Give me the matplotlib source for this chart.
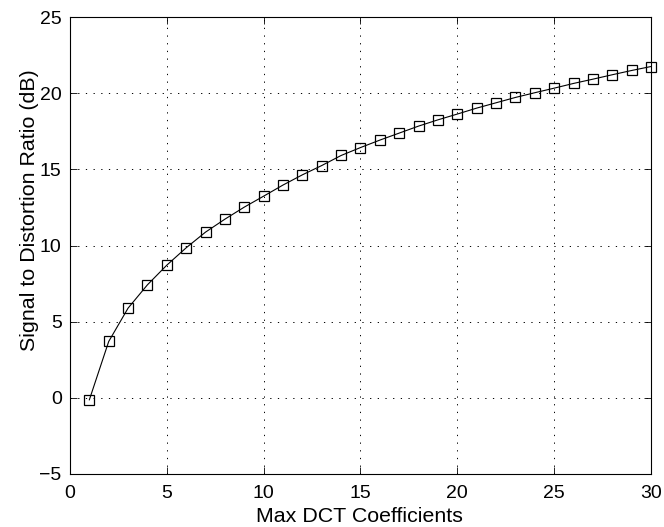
import numpy as np
import matplotlib.pyplot as plt

plt.rcParams['font.family'] = ['Liberation Sans', 'DejaVu Sans']

# number of DCT coefficients kept vs. resulting SDR
n_coef = np.arange(1, 31)
sdr_db = [-0.13, 3.70, 5.89, 7.42, 8.71, 9.85, 10.88, 11.73, 12.52, 13.24,
          13.97, 14.64, 15.25, 15.91, 16.43, 16.92, 17.38, 17.84, 18.25, 18.63,
          19.02, 19.37, 19.72, 20.03, 20.33, 20.64, 20.92, 21.21, 21.49, 21.75]

xticks = [0, 5, 10, 15, 20, 25, 30]
yticks = [-5, 0, 5, 10, 15, 20, 25]

fig = plt.figure(figsize=(6.64, 5.27), dpi=100)
ax = fig.add_axes([0.1054, 0.1006, 0.875, 0.8671])

ax.plot(n_coef, sdr_db, color='black', linewidth=0.8, marker='s',
        markersize=7, markerfacecolor='none', markeredgecolor='black',
        markeredgewidth=0.9, clip_on=False, zorder=3)

ax.set_xlim(0, 30)
ax.set_ylim(-5, 25)
ax.set_xticks(xticks)
ax.set_yticks(yticks)
ax.set_yticklabels(['\u22125'] + [str(v) for v in yticks[1:]])

ax.grid(True, color='black', linestyle=(0, (1.3, 6.6)), linewidth=0.7)
ax.tick_params(direction='in', top=True, right=True, length=5,
               width=0.6, labelsize=14)
ax.tick_params(axis='x', pad=8)
ax.tick_params(axis='y', pad=6)
for side in ax.spines.values():
    side.set_linewidth(0.8)

# axis titles placed by hand
fig.text(359 / 664, 1 / 527, 'Max DCT Coefficients', fontsize=15.4,
         ha='center', va='bottom')
fig.text(35 / 664, 1 - 210.5 / 527, 'Signal to Distortion Ratio (dB)',
         fontsize=15.4, rotation=90, rotation_mode='anchor',
         ha='center', va='baseline')

fig.savefig('out.png', dpi=100)
